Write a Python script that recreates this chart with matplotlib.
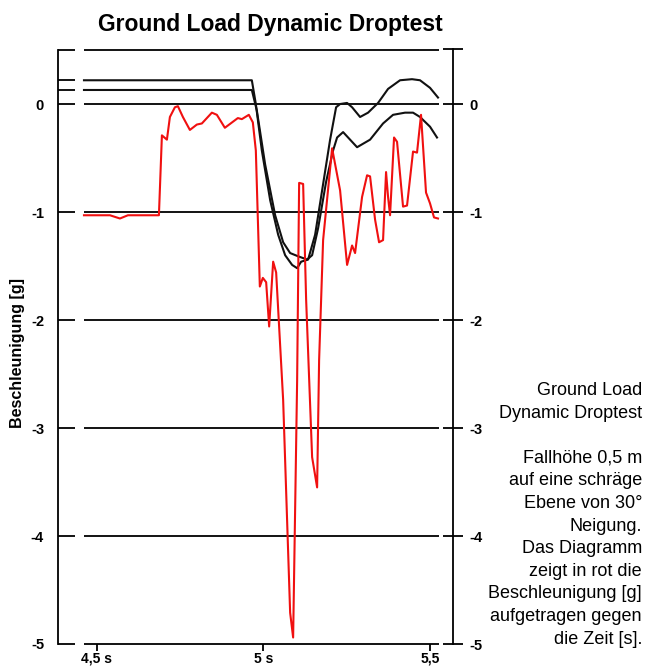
import numpy as np
import matplotlib
matplotlib.use("Agg")
import matplotlib.pyplot as plt

plt.rcParams["font.family"] = ["Liberation Sans", "DejaVu Sans"]

# --- data: time [s], acceleration [g] ---
t_red = [4.461, 4.539, 4.569, 4.593, 4.686, 4.695, 4.710, 4.719, 4.734, 4.743,
         4.758, 4.779, 4.800, 4.815, 4.845, 4.860, 4.884, 4.923, 4.935, 4.956,
         4.968, 4.977, 4.989, 4.998, 5.008, 5.017, 5.029, 5.038, 5.059, 5.080,
         5.089, 5.101, 5.107, 5.119, 5.128, 5.146, 5.161, 5.167, 5.179, 5.206,
         5.230, 5.251, 5.266, 5.275, 5.296, 5.311, 5.320, 5.335, 5.347, 5.359,
         5.368, 5.374, 5.380, 5.392, 5.401, 5.419, 5.431, 5.449, 5.461, 5.473,
         5.488, 5.500, 5.512, 5.524]
g_red = [-1.03, -1.03, -1.06, -1.03, -1.03, -0.29, -0.33, -0.12, -0.03, -0.02,
         -0.12, -0.24, -0.19, -0.18, -0.08, -0.10, -0.22, -0.13, -0.14, -0.10,
         -0.17, -0.43, -1.69, -1.61, -1.65, -2.06, -1.46, -1.56, -2.74, -4.71,
         -4.94, -2.56, -0.73, -0.74, -1.81, -3.27, -3.55, -2.37, -1.26, -0.41,
         -0.80, -1.49, -1.31, -1.38, -0.86, -0.66, -0.67, -1.07, -1.28, -1.26,
         -0.63, -0.86, -1.03, -0.31, -0.35, -0.95, -0.94, -0.44, -0.45, -0.10,
         -0.82, -0.92, -1.05, -1.06]

t_blk1 = [4.461, 4.965, 4.977, 4.995, 5.020, 5.044, 5.065, 5.086, 5.101, 5.113,
          5.134, 5.155, 5.176, 5.200, 5.218, 5.230, 5.251, 5.266, 5.290, 5.314,
          5.344, 5.374, 5.410, 5.446, 5.470, 5.500, 5.524]
g_blk1 = [0.22, 0.22, 0.0, -0.43, -0.89, -1.21, -1.40, -1.49, -1.52, -1.46,
          -1.44, -1.21, -0.80, -0.33, -0.03, 0.0, 0.01, -0.03, -0.12, -0.08,
          0.01, 0.14, 0.22, 0.23, 0.22, 0.15, 0.06]

t_blk2 = [4.461, 4.965, 4.980, 5.005, 5.035, 5.059, 5.080, 5.104, 5.131, 5.146,
          5.164, 5.188, 5.209, 5.221, 5.239, 5.260, 5.281, 5.320, 5.359, 5.389,
          5.425, 5.449, 5.470, 5.500, 5.521]
g_blk2 = [0.13, 0.13, -0.06, -0.56, -1.03, -1.28, -1.38, -1.41, -1.44, -1.40,
          -1.15, -0.72, -0.43, -0.31, -0.26, -0.33, -0.40, -0.33, -0.18, -0.10,
          -0.08, -0.08, -0.12, -0.21, -0.31]

grid_levels = [0.5, 0, -1, -2, -3, -4, -5]
y_ticks = [0, -1, -2, -3, -4, -5]
y_labels = ["0", "-1", "-2", "-3", "-4", "-5"]
x_ticks = [4.5, 5.0, 5.5]
x_labels = ["4,5 s", "5 s", "5,5"]

title = "Ground Load Dynamic Droptest"
ylabel = "Beschleunigung [g]"
note_lines = ["Ground Load", "Dynamic Droptest", "",
              "Fallhöhe 0,5 m", "auf eine schräge", "Ebene von 30°",
              "Neigung.", "Das Diagramm", "zeigt in rot die",
              "Beschleunigung [g]", "aufgetragen gegen", "die Zeit [s]."]

W, H = 654, 667
fig = plt.figure(figsize=(W / 100, H / 100), dpi=100)
ax = fig.add_axes([58 / W, 23 / H, 395 / W, 597 / H])
ax.set_xlim(4.383, 5.569)
ax.set_ylim(-5, 0.528)

# horizontal reference lines (not full width, like the scan)
ax.hlines(grid_levels, t_red[0], 5.527, color="black", lw=1.3, clip_on=False)

ax.plot(t_blk1, g_blk1, color="#111111", lw=1.5)
ax.plot(t_blk2, g_blk2, color="#111111", lw=1.5)
ax.plot(t_red, g_red, color="#f01010", lw=1.5)

for s in ["top", "bottom", "right"]:
    ax.spines[s].set_visible(False)
ax.spines["left"].set_bounds(-5, 0.5)
ax.spines["left"].set_linewidth(1.3)

ax.set_yticks(y_ticks, y_labels)
ax.set_yticks([0.5, 0.22, 0.13], minor=True)
ax.tick_params(axis="y", which="both", direction="in", length=12, width=1.3,
               pad=10, labelsize=10.5)
ax.set_xticks(x_ticks, x_labels)
ax.tick_params(axis="x", direction="out", length=5, width=1.3, pad=0.5,
               labelsize=10)
for lab in ax.get_xticklabels() + ax.get_yticklabels():
    lab.set_fontweight("bold")

ax2 = ax.twinx()
ax2.set_ylim(ax.get_ylim())
for s in ["top", "bottom", "left"]:
    ax2.spines[s].set_visible(False)
ax2.spines["right"].set_bounds(-5, 0.51)
ax2.spines["right"].set_linewidth(1.3)
ax2.set_yticks(y_ticks, y_labels)
ax2.set_yticks([0.51], minor=True)
ax2.tick_params(axis="y", which="both", direction="inout", length=14,
                width=1.3, pad=5, labelsize=10.5)
for lab in ax2.get_yticklabels():
    lab.set_fontweight("bold")

fig.text(270 / W, 1 - 31 / H, title, ha="center", va="baseline",
         fontsize=16.5, fontweight="bold")
fig.text(18 / W, 1 - 353 / H, ylabel, rotation=90, ha="center", va="center",
         fontsize=11.5, fontweight="bold")

for i, line in enumerate(note_lines):
    if line:
        fig.text(642 / W, 1 - (395 + 22.6 * i) / H, line, ha="right",
                 va="baseline", fontsize=13)

fig.savefig("out.png", dpi=100)
